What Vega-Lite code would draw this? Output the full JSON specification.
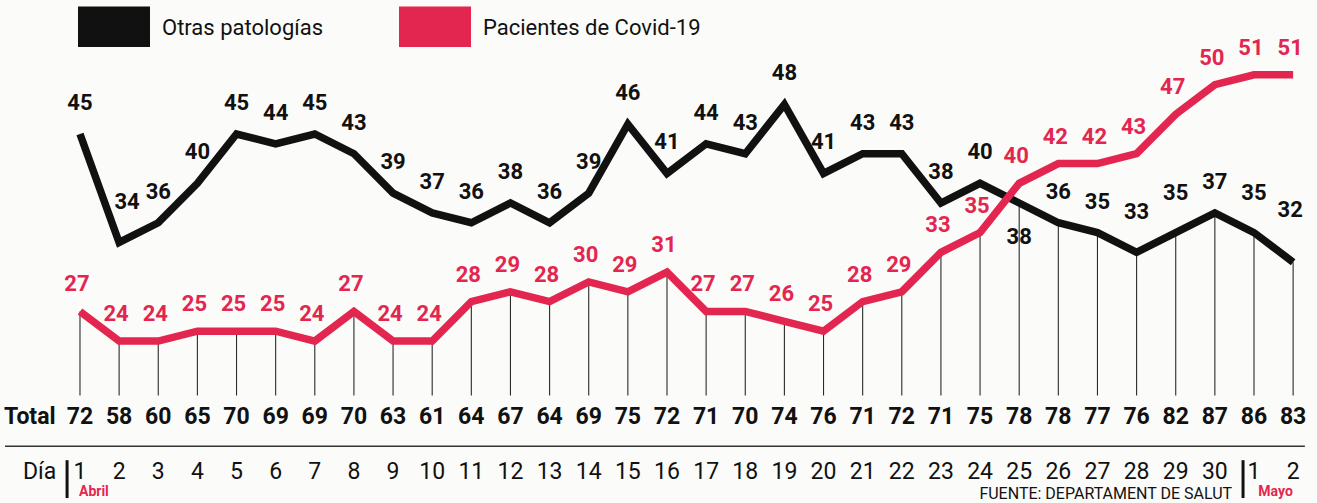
{
  "$schema": "https://vega.github.io/schema/vega-lite/v6.json",
  "width": 1317,
  "height": 503,
  "autosize": {"type": "fit", "contains": "padding"},
  "padding": 0,
  "background": "#fbfbf9",
  "config": {"view": {"stroke": null}, "font": "Roboto, Liberation Sans, sans-serif"},
  "data": {"values": [
    {"day": 1, "dia": "1", "otras": 45, "covid": 27, "total": 72},
    {"day": 2, "dia": "2", "otras": 34, "covid": 24, "total": 58},
    {"day": 3, "dia": "3", "otras": 36, "covid": 24, "total": 60},
    {"day": 4, "dia": "4", "otras": 40, "covid": 25, "total": 65},
    {"day": 5, "dia": "5", "otras": 45, "covid": 25, "total": 70},
    {"day": 6, "dia": "6", "otras": 44, "covid": 25, "total": 69},
    {"day": 7, "dia": "7", "otras": 45, "covid": 24, "total": 69},
    {"day": 8, "dia": "8", "otras": 43, "covid": 27, "total": 70},
    {"day": 9, "dia": "9", "otras": 39, "covid": 24, "total": 63},
    {"day": 10, "dia": "10", "otras": 37, "covid": 24, "total": 61},
    {"day": 11, "dia": "11", "otras": 36, "covid": 28, "total": 64},
    {"day": 12, "dia": "12", "otras": 38, "covid": 29, "total": 67},
    {"day": 13, "dia": "13", "otras": 36, "covid": 28, "total": 64},
    {"day": 14, "dia": "14", "otras": 39, "covid": 30, "total": 69},
    {"day": 15, "dia": "15", "otras": 46, "covid": 29, "total": 75},
    {"day": 16, "dia": "16", "otras": 41, "covid": 31, "total": 72},
    {"day": 17, "dia": "17", "otras": 44, "covid": 27, "total": 71},
    {"day": 18, "dia": "18", "otras": 43, "covid": 27, "total": 70},
    {"day": 19, "dia": "19", "otras": 48, "covid": 26, "total": 74},
    {"day": 20, "dia": "20", "otras": 41, "covid": 25, "total": 76},
    {"day": 21, "dia": "21", "otras": 43, "covid": 28, "total": 71},
    {"day": 22, "dia": "22", "otras": 43, "covid": 29, "total": 72},
    {"day": 23, "dia": "23", "otras": 38, "covid": 33, "total": 71},
    {"day": 24, "dia": "24", "otras": 40, "covid": 35, "total": 75},
    {"day": 25, "dia": "25", "otras": 38, "covid": 40, "total": 78},
    {"day": 26, "dia": "26", "otras": 36, "covid": 42, "total": 78},
    {"day": 27, "dia": "27", "otras": 35, "covid": 42, "total": 77},
    {"day": 28, "dia": "28", "otras": 33, "covid": 43, "total": 76},
    {"day": 29, "dia": "29", "otras": 35, "covid": 47, "total": 82},
    {"day": 30, "dia": "30", "otras": 37, "covid": 50, "total": 87},
    {"day": 31, "dia": "1", "otras": 35, "covid": 51, "total": 86},
    {"day": 32, "dia": "2", "otras": 32, "covid": 51, "total": 83}
  ]},
  "layer": [
    {
      "transform": [
        {"fold": ["otras", "covid"], "as": ["serie", "valor"]},
        {"aggregate": [{"op": "min", "field": "valor", "as": "low"}], "groupby": ["day"]}
      ],
      "mark": {"type": "rule", "stroke": "#2a2a2a", "strokeWidth": 1.1},
      "encoding": {
        "x": {"field": "day", "type": "quantitative", "scale": {"domain": [-1.044, 32.61], "nice": false, "zero": false}, "axis": null},
        "y": {"field": "low", "type": "quantitative", "scale": {"domain": [7.78, 58.59], "nice": false, "zero": false}, "axis": null},
        "y2": {"datum": 18.48}
      }
    },
    {
      "transform": [{"fold": ["otras", "covid"], "as": ["serie", "valor"]}],
      "mark": {"type": "line", "strokeWidth": 7.5, "strokeJoin": "miter"},
      "encoding": {
        "x": {"field": "day", "type": "quantitative", "scale": {"domain": [-1.044, 32.61], "nice": false, "zero": false}, "axis": null},
        "y": {"field": "valor", "type": "quantitative", "scale": {"domain": [7.78, 58.59], "nice": false, "zero": false}, "axis": null},
        "color": {
          "field": "serie", "type": "nominal",
          "scale": {"domain": ["otras", "covid"], "range": ["#111111", "#e3264f"]},
          "legend": {
            "orient": "none", "legendX": 78, "legendY": 5, "direction": "horizontal", "title": null,
            "symbolType": "M-1,-0.96H1V0.16H-1Z", "symbolSize": 5184, "symbolStrokeWidth": 0,
            "labelFont": "Roboto, Liberation Sans, sans-serif",
            "labelFontSize": 22, "labelColor": "#111111", "labelOffset": 12, "labelLimit": 0, "columnPadding": 75,
            "labelExpr": "datum.value == 'otras' ? 'Otras patologías' : 'Pacientes de Covid-19'",
            "encode": {
              "symbols": {"update": {"fill": {"scale": "color", "field": "value"}, "opacity": {"value": 1}, "strokeWidth": {"value": 0}}},
              "labels": {"update": {"dy": {"value": -13}}}
            }
          }
        }
      }
    },
    {
      "transform": [{"filter": "datum.day != 2 && datum.day != 25 && datum.day != 28 && datum.day != 29 && datum.day != 31 && datum.day != 32"}],
      "mark": {"type": "text", "fontSize": 22, "fontWeight": "bold", "color": "#111111", "dy": -31, "baseline": "middle"},
      "encoding": {
        "x": {"field": "day", "type": "quantitative", "scale": {"domain": [-1.044, 32.61], "nice": false, "zero": false}, "axis": null},
        "y": {"field": "otras", "type": "quantitative", "scale": {"domain": [7.78, 58.59], "nice": false, "zero": false}, "axis": null},
        "text": {"field": "otras"}
      }
    },
    {
      "transform": [{"filter": "datum.day == 2"}],
      "mark": {"type": "text", "fontSize": 22, "fontWeight": "bold", "color": "#111111", "dy": -40, "dx": 8, "baseline": "middle"},
      "encoding": {
        "x": {"field": "day", "type": "quantitative", "scale": {"domain": [-1.044, 32.61], "nice": false, "zero": false}, "axis": null},
        "y": {"field": "otras", "type": "quantitative", "scale": {"domain": [7.78, 58.59], "nice": false, "zero": false}, "axis": null},
        "text": {"field": "otras"}
      }
    },
    {
      "transform": [{"filter": "datum.day == 28 || datum.day == 29 || datum.day == 31"}],
      "mark": {"type": "text", "fontSize": 22, "fontWeight": "bold", "color": "#111111", "dy": -40, "baseline": "middle"},
      "encoding": {
        "x": {"field": "day", "type": "quantitative", "scale": {"domain": [-1.044, 32.61], "nice": false, "zero": false}, "axis": null},
        "y": {"field": "otras", "type": "quantitative", "scale": {"domain": [7.78, 58.59], "nice": false, "zero": false}, "axis": null},
        "text": {"field": "otras"}
      }
    },
    {
      "transform": [{"filter": "datum.day == 32"}],
      "mark": {"type": "text", "fontSize": 22, "fontWeight": "bold", "color": "#111111", "dy": -52, "dx": -3, "baseline": "middle"},
      "encoding": {
        "x": {"field": "day", "type": "quantitative", "scale": {"domain": [-1.044, 32.61], "nice": false, "zero": false}, "axis": null},
        "y": {"field": "otras", "type": "quantitative", "scale": {"domain": [7.78, 58.59], "nice": false, "zero": false}, "axis": null},
        "text": {"field": "otras"}
      }
    },
    {
      "transform": [{"filter": "datum.day == 25"}],
      "mark": {"type": "text", "fontSize": 22, "fontWeight": "bold", "color": "#111111", "dy": 34, "baseline": "middle"},
      "encoding": {
        "x": {"field": "day", "type": "quantitative", "scale": {"domain": [-1.044, 32.61], "nice": false, "zero": false}, "axis": null},
        "y": {"field": "otras", "type": "quantitative", "scale": {"domain": [7.78, 58.59], "nice": false, "zero": false}, "axis": null},
        "text": {"field": "otras"}
      }
    },
    {
      "mark": {"type": "text", "fontSize": 22, "fontWeight": "bold", "color": "#e3264f", "dy": -27, "dx": -3, "baseline": "middle"},
      "encoding": {
        "x": {"field": "day", "type": "quantitative", "scale": {"domain": [-1.044, 32.61], "nice": false, "zero": false}, "axis": null},
        "y": {"field": "covid", "type": "quantitative", "scale": {"domain": [7.78, 58.59], "nice": false, "zero": false}, "axis": null},
        "text": {"field": "covid"}
      }
    },
    {
      "mark": {"type": "text", "fontSize": 23, "fontWeight": "bold", "color": "#111111", "baseline": "middle"},
      "encoding": {
        "x": {"field": "day", "type": "quantitative", "scale": {"domain": [-1.044, 32.61], "nice": false, "zero": false}, "axis": null},
        "y": {"datum": 16.26, "type": "quantitative", "scale": {"domain": [7.78, 58.59], "nice": false, "zero": false}, "axis": null},
        "text": {"field": "total"}
      }
    },
    {
      "data": {"values": [{"t": "Total"}]},
      "mark": {"type": "text", "fontSize": 23, "fontWeight": "bold", "color": "#111111", "baseline": "middle", "align": "left"},
      "encoding": {
        "x": {"datum": -0.94, "type": "quantitative", "scale": {"domain": [-1.044, 32.61], "nice": false, "zero": false}, "axis": null},
        "y": {"datum": 16.26, "type": "quantitative", "scale": {"domain": [7.78, 58.59], "nice": false, "zero": false}, "axis": null},
        "text": {"field": "t"}
      }
    },
    {
      "data": {"values": [{}]},
      "mark": {"type": "rule", "stroke": "#333333", "strokeWidth": 1.5},
      "encoding": {
        "x": {"datum": -0.917, "type": "quantitative", "scale": {"domain": [-1.044, 32.61], "nice": false, "zero": false}, "axis": null},
        "x2": {"datum": 32.3},
        "y": {"datum": 13.33, "type": "quantitative", "scale": {"domain": [7.78, 58.59], "nice": false, "zero": false}, "axis": null}
      }
    },
    {
      "mark": {"type": "text", "fontSize": 23, "color": "#111111", "baseline": "middle"},
      "encoding": {
        "x": {"field": "day", "type": "quantitative", "scale": {"domain": [-1.044, 32.61], "nice": false, "zero": false}, "axis": null},
        "y": {"datum": 10.71, "type": "quantitative", "scale": {"domain": [7.78, 58.59], "nice": false, "zero": false}, "axis": null},
        "text": {"field": "dia"}
      }
    },
    {
      "data": {"values": [{"t": "Día"}]},
      "mark": {"type": "text", "fontSize": 23, "color": "#111111", "baseline": "middle", "align": "left"},
      "encoding": {
        "x": {"datum": -0.457, "type": "quantitative", "scale": {"domain": [-1.044, 32.61], "nice": false, "zero": false}, "axis": null},
        "y": {"datum": 10.71, "type": "quantitative", "scale": {"domain": [7.78, 58.59], "nice": false, "zero": false}, "axis": null},
        "text": {"field": "t"}
      }
    },
    {
      "data": {"values": [{"pos": 0.67}, {"pos": 30.72}]},
      "mark": {"type": "rule", "stroke": "#111111", "strokeWidth": 3},
      "encoding": {
        "x": {"field": "pos", "type": "quantitative", "scale": {"domain": [-1.044, 32.61], "nice": false, "zero": false}, "axis": null},
        "y": {"datum": 11.92, "type": "quantitative", "scale": {"domain": [7.78, 58.59], "nice": false, "zero": false}, "axis": null},
        "y2": {"datum": 8.08}
      }
    },
    {
      "data": {"values": [{"t": "Abril"}]},
      "mark": {"type": "text", "fontSize": 14, "fontWeight": "bold", "color": "#e3264f", "baseline": "middle", "align": "left"},
      "encoding": {
        "x": {"datum": 0.974, "type": "quantitative", "scale": {"domain": [-1.044, 32.61], "nice": false, "zero": false}, "axis": null},
        "y": {"datum": 8.7, "type": "quantitative", "scale": {"domain": [7.78, 58.59], "nice": false, "zero": false}, "axis": null},
        "text": {"field": "t"}
      }
    },
    {
      "data": {"values": [{"t": "Mayo"}]},
      "mark": {"type": "text", "fontSize": 14, "fontWeight": "bold", "color": "#e3264f", "baseline": "middle", "align": "left"},
      "encoding": {
        "x": {"datum": 31.11, "type": "quantitative", "scale": {"domain": [-1.044, 32.61], "nice": false, "zero": false}, "axis": null},
        "y": {"datum": 8.7, "type": "quantitative", "scale": {"domain": [7.78, 58.59], "nice": false, "zero": false}, "axis": null},
        "text": {"field": "t"}
      }
    },
    {
      "data": {"values": [{"t": "FUENTE: DEPARTAMENT DE SALUT"}]},
      "mark": {"type": "text", "fontSize": 16, "color": "#111111", "baseline": "middle", "align": "right"},
      "encoding": {
        "x": {"datum": 30.44, "type": "quantitative", "scale": {"domain": [-1.044, 32.61], "nice": false, "zero": false}, "axis": null},
        "y": {"datum": 8.45, "type": "quantitative", "scale": {"domain": [7.78, 58.59], "nice": false, "zero": false}, "axis": null},
        "text": {"field": "t"}
      }
    }
  ]
}
